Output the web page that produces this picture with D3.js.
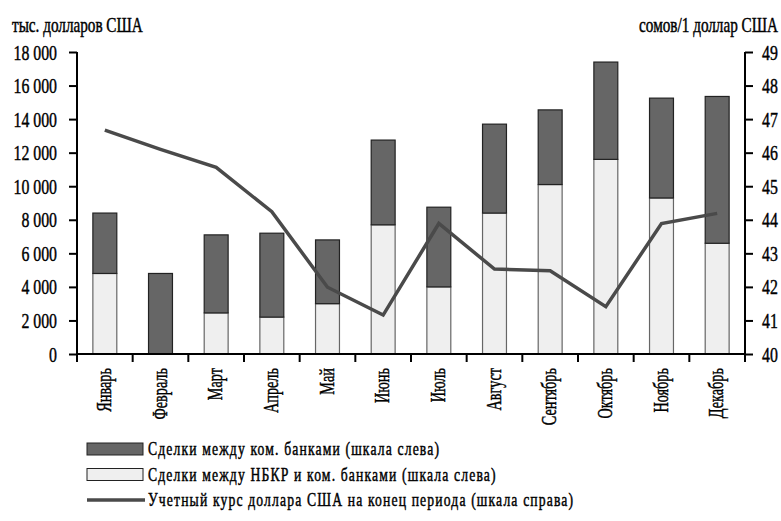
<!DOCTYPE html>
<html>
<head>
<meta charset="utf-8">
<script src="https://cdn.jsdelivr.net/npm/d3@7"></script>
<style>
  body { margin: 0; background: #fff; }
  svg text { font-family: "Liberation Serif", "DejaVu Serif", serif; fill: #000; }
  svg text.heavy { stroke: #000; stroke-width: 0.45px; }
</style>
</head>
<body>
<svg id="chart" width="781" height="521"></svg>
<script>
// месяцы
var months = ['Январь', 'Февраль', 'Март', 'Апрель', 'Май', 'Июнь', 'Июль', 'Август', 'Сентябрь', 'Октябрь', 'Ноябрь', 'Декабрь'];
// сделки между НБКР и ком. банками, тыс. долларов
var nbkr = [4800, 0, 2450, 2200, 3000, 7700, 4000, 8400, 10100, 11600, 9300, 6600];
// сделки между ком. банками, тыс. долларов
var interbank = [3600, 4800, 4650, 5000, 3800, 5050, 4750, 5300, 4450, 5800, 5950, 8750];
// учетный курс, сомов за доллар
var rate = [46.67, 46.10, 45.56, 44.24, 41.99, 41.16, 43.89, 42.53, 42.48, 41.41, 43.89, 44.19];
var leftTicks = [0, 2000, 4000, 6000, 8000, 10000, 12000, 14000, 16000, 18000];
var rightTicks = [40, 41, 42, 43, 44, 45, 46, 47, 48, 49];
var legendLabels = ['Сделки между ком. банками (шкала слева)', 'Сделки между НБКР и ком. банками (шкала слева)', 'Учетный курс доллара США на конец периода (шкала справа)'];

(function () {
    var svg = d3.select('#chart'),
        pLeft = 77, pRight = 745, pTop = 52, pBottom = 354, // границы области графика
        darkFill = '#666666', lightFill = '#efefef', lineColor = '#4a4a4a';

    var x = d3.scaleBand().domain(months).range([pLeft, pRight]).paddingInner(0.57).paddingOuter(0.285);
    var yL = d3.scaleLinear().domain([0, 18000]).range([pBottom, pTop]);
    var yR = d3.scaleLinear().domain([40, 49]).range([pBottom, pTop]);

    var rows = months.map(function(m, i) { return { month: m, nbkr: nbkr[i], interbank: interbank[i] }; });
    var stack = d3.stack().keys(['nbkr', 'interbank'])(rows);

    // столбцы
    svg.append('g').selectAll('g')
        .data(stack)
        .enter()
        .append('g')
        .attr('fill', function(s) { return s.key === 'nbkr' ? lightFill : darkFill; })
        .attr('stroke', function(s) { return s.key === 'nbkr' ? '#666' : '#222'; })
        .attr('stroke-width', 1.2)
        .selectAll('rect')
        .data(function(s) { return s.filter(function(d) { return d[1] > d[0]; }); })
        .enter()
        .append('rect')
        .attr('x', function(d) { return x(d.data.month); })
        .attr('y', function(d) { return yL(d[1]); })
        .attr('width', x.bandwidth())
        .attr('height', function(d) { return yL(d[0]) - yL(d[1]); });

    // линия курса
    var line = d3.line()
        .x(function(d, i) { return x(months[i]) + x.bandwidth() / 2; })
        .y(function(d) { return yR(d); });
    svg.append('path')
        .datum(rate)
        .attr('d', line)
        .attr('fill', 'none')
        .attr('stroke', lineColor)
        .attr('stroke-width', 3.5);

    function condense(sel, sx) {
        sel.each(function() {
            var t = d3.select(this);
            var tx = +t.attr('x') || 0;
            t.attr('x', tx / sx).attr('transform', 'scale(' + sx + ',1)');
        });
    }

    // левая ось
    var gL = svg.append('g')
        .attr('transform', 'translate(' + pLeft + ',0)')
        .call(d3.axisLeft(yL).tickValues(leftTicks).tickSize(8).tickPadding(12)
            .tickFormat(function(d) { return d3.format(',')(d).replace(/,/g, ' '); }));
    gL.select('.domain').attr('stroke-width', 2).attr('d', 'M0,' + pTop + 'V' + (pBottom + 8));
    gL.selectAll('.tick line').attr('stroke-width', 2);
    gL.selectAll('text').attr('class', 'heavy').attr('font-size', 22).attr('font-family', null).call(condense, 0.72);

    // правая ось
    var gR = svg.append('g')
        .attr('transform', 'translate(' + pRight + ',0)')
        .call(d3.axisRight(yR).tickValues(rightTicks).tickSize(8).tickPadding(9));
    gR.select('.domain').attr('stroke-width', 2).attr('d', 'M0,' + pTop + 'V' + (pBottom + 8));
    gR.selectAll('.tick line').attr('stroke-width', 2);
    gR.selectAll('text').attr('class', 'heavy').attr('font-size', 22).attr('font-family', null).call(condense, 0.72);

    // нижняя ось
    svg.append('line')
        .attr('x1', pLeft).attr('x2', pRight).attr('y1', pBottom).attr('y2', pBottom)
        .attr('stroke', '#000').attr('stroke-width', 2);
    var bounds = months.map(function(m) { return x(m) - x.step() * 0.285; }).concat([pRight]);
    svg.append('g').selectAll('line')
        .data(bounds)
        .enter()
        .append('line')
        .attr('x1', function(d) { return d; }).attr('x2', function(d) { return d; })
        .attr('y1', pBottom).attr('y2', pBottom + 8)
        .attr('stroke', '#000').attr('stroke-width', 2);

    svg.append('g').selectAll('text')
        .data(months)
        .enter()
        .append('text')
        .attr('class', 'heavy')
        .attr('transform', function(m) { return 'translate(' + (x(m) + x.bandwidth() / 2 + 6) + ',' + (pBottom + 14) + ') rotate(-90) scale(0.68,1)'; })
        .attr('text-anchor', 'end')
        .attr('font-size', 21)
        .text(function(m) { return m; });

    // подписи осей
    svg.append('text').attr('class', 'heavy').attr('transform', 'translate(12,32) scale(0.76,1)').attr('font-size', 20).text('тыс. долларов США');
    svg.append('text').attr('class', 'heavy').attr('transform', 'translate(778,32) scale(0.76,1)').attr('text-anchor', 'end').attr('font-size', 20).text('сомов/1 доллар США');

    // легенда
    var legend = svg.append('g').attr('transform', 'translate(87,443)');
    var items = legend.selectAll('g')
        .data(legendLabels)
        .enter()
        .append('g')
        .attr('transform', function(d, i) { return 'translate(0,' + (i * 25.5) + ')'; });
    items.filter(function(d, i) { return i < 2; })
        .append('rect')
        .attr('width', 56).attr('height', 12)
        .attr('fill', function(d, i) { return i === 0 ? darkFill : lightFill; })
        .attr('stroke', '#222').attr('stroke-width', 1);
    items.filter(function(d, i) { return i === 2; })
        .append('line')
        .attr('x1', 0).attr('x2', 58).attr('y1', 6).attr('y2', 6)
        .attr('stroke', lineColor).attr('stroke-width', 3.5);
    items.append('text')
        .attr('class', 'heavy')
        .attr('transform', 'translate(61,12) scale(0.76,1)')
        .attr('font-size', 18)
        .attr('letter-spacing', 1.5)
        .text(function(d) { return d; });
})();
</script>
</body>
</html>
